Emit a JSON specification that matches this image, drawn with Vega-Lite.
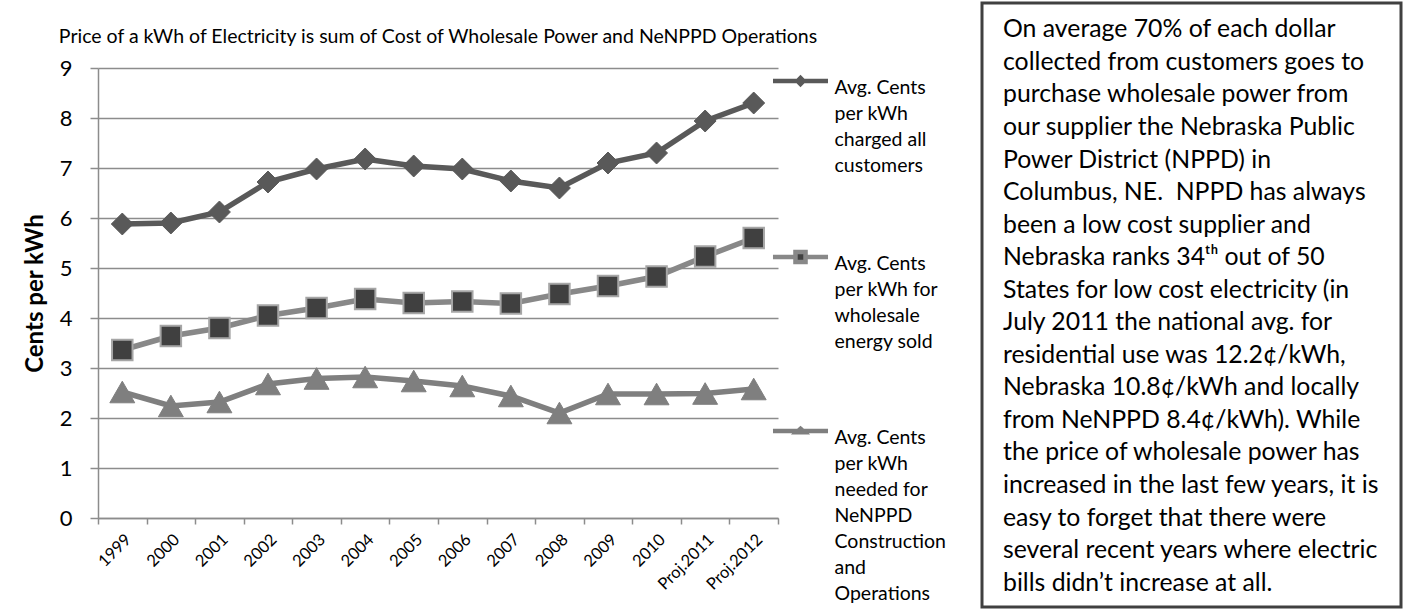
{
  "$schema": "https://vega.github.io/schema/vega-lite/v6.json",
  "padding": {"left": 23, "top": 1, "right": 0, "bottom": 0},
  "background": "white",
  "spacing": 33,
  "resolve": {"scale": {"stroke": "independent"}, "legend": {"stroke": "independent"}},
  "config": {
    "font": "Lato",
    "view": {"stroke": null},
    "style": {"guide-label": {"lineHeight": 26}}
  },
  "datasets": {
    "prices": [
      {"year": "1999", "series": "Avg. Cents per kWh charged all customers", "value": 5.88},
      {"year": "2000", "series": "Avg. Cents per kWh charged all customers", "value": 5.9},
      {"year": "2001", "series": "Avg. Cents per kWh charged all customers", "value": 6.12},
      {"year": "2002", "series": "Avg. Cents per kWh charged all customers", "value": 6.72},
      {"year": "2003", "series": "Avg. Cents per kWh charged all customers", "value": 6.98},
      {"year": "2004", "series": "Avg. Cents per kWh charged all customers", "value": 7.18},
      {"year": "2005", "series": "Avg. Cents per kWh charged all customers", "value": 7.04},
      {"year": "2006", "series": "Avg. Cents per kWh charged all customers", "value": 6.98},
      {"year": "2007", "series": "Avg. Cents per kWh charged all customers", "value": 6.74},
      {"year": "2008", "series": "Avg. Cents per kWh charged all customers", "value": 6.6},
      {"year": "2009", "series": "Avg. Cents per kWh charged all customers", "value": 7.1},
      {"year": "2010", "series": "Avg. Cents per kWh charged all customers", "value": 7.3},
      {"year": "Proj.2011", "series": "Avg. Cents per kWh charged all customers", "value": 7.94},
      {"year": "Proj.2012", "series": "Avg. Cents per kWh charged all customers", "value": 8.3},
      {"year": "1999", "series": "Avg. Cents per kWh for wholesale energy sold", "value": 3.36},
      {"year": "2000", "series": "Avg. Cents per kWh for wholesale energy sold", "value": 3.64},
      {"year": "2001", "series": "Avg. Cents per kWh for wholesale energy sold", "value": 3.8},
      {"year": "2002", "series": "Avg. Cents per kWh for wholesale energy sold", "value": 4.05},
      {"year": "2003", "series": "Avg. Cents per kWh for wholesale energy sold", "value": 4.2},
      {"year": "2004", "series": "Avg. Cents per kWh for wholesale energy sold", "value": 4.38},
      {"year": "2005", "series": "Avg. Cents per kWh for wholesale energy sold", "value": 4.3},
      {"year": "2006", "series": "Avg. Cents per kWh for wholesale energy sold", "value": 4.33},
      {"year": "2007", "series": "Avg. Cents per kWh for wholesale energy sold", "value": 4.29},
      {"year": "2008", "series": "Avg. Cents per kWh for wholesale energy sold", "value": 4.48},
      {"year": "2009", "series": "Avg. Cents per kWh for wholesale energy sold", "value": 4.64},
      {"year": "2010", "series": "Avg. Cents per kWh for wholesale energy sold", "value": 4.83},
      {"year": "Proj.2011", "series": "Avg. Cents per kWh for wholesale energy sold", "value": 5.23},
      {"year": "Proj.2012", "series": "Avg. Cents per kWh for wholesale energy sold", "value": 5.6},
      {"year": "1999", "series": "Avg. Cents per kWh needed for NeNPPD Construction and Operations", "value": 2.52},
      {"year": "2000", "series": "Avg. Cents per kWh needed for NeNPPD Construction and Operations", "value": 2.24},
      {"year": "2001", "series": "Avg. Cents per kWh needed for NeNPPD Construction and Operations", "value": 2.32},
      {"year": "2002", "series": "Avg. Cents per kWh needed for NeNPPD Construction and Operations", "value": 2.68},
      {"year": "2003", "series": "Avg. Cents per kWh needed for NeNPPD Construction and Operations", "value": 2.79},
      {"year": "2004", "series": "Avg. Cents per kWh needed for NeNPPD Construction and Operations", "value": 2.82},
      {"year": "2005", "series": "Avg. Cents per kWh needed for NeNPPD Construction and Operations", "value": 2.74},
      {"year": "2006", "series": "Avg. Cents per kWh needed for NeNPPD Construction and Operations", "value": 2.64},
      {"year": "2007", "series": "Avg. Cents per kWh needed for NeNPPD Construction and Operations", "value": 2.44},
      {"year": "2008", "series": "Avg. Cents per kWh needed for NeNPPD Construction and Operations", "value": 2.1},
      {"year": "2009", "series": "Avg. Cents per kWh needed for NeNPPD Construction and Operations", "value": 2.48},
      {"year": "2010", "series": "Avg. Cents per kWh needed for NeNPPD Construction and Operations", "value": 2.48},
      {"year": "Proj.2011", "series": "Avg. Cents per kWh needed for NeNPPD Construction and Operations", "value": 2.49},
      {"year": "Proj.2012", "series": "Avg. Cents per kWh needed for NeNPPD Construction and Operations", "value": 2.58}
    ],
    "note": [
      {"line": 1, "text": "On average 70% of each dollar"},
      {"line": 2, "text": "collected from customers goes to"},
      {"line": 3, "text": "purchase wholesale power from"},
      {"line": 4, "text": "our supplier the Nebraska Public"},
      {"line": 5, "text": "Power District (NPPD) in"},
      {"line": 6, "text": "Columbus, NE.\u00a0 NPPD has always"},
      {"line": 7, "text": "been a low cost supplier and"},
      {"line": 8, "text": "Nebraska ranks 34ᵗʰ out of 50"},
      {"line": 9, "text": "States for low cost electricity (in"},
      {"line": 10, "text": "July 2011 the national avg. for"},
      {"line": 11, "text": "residential use was 12.2¢/kWh,"},
      {"line": 12, "text": "Nebraska 10.8¢/kWh and locally"},
      {"line": 13, "text": "from NeNPPD 8.4¢/kWh). While"},
      {"line": 14, "text": "the price of wholesale power has"},
      {"line": 15, "text": "increased in the last few years, it is"},
      {"line": 16, "text": "easy to forget that there were"},
      {"line": 17, "text": "several recent years where electric"},
      {"line": 18, "text": "bills didn’t increase at all."}
    ]
  },
  "hconcat": [
    {
      "width": 680,
      "height": 515,
      "title": {
        "text": "Price of a kWh of Electricity is sum of Cost of Wholesale Power and NeNPPD Operations",
        "fontSize": 19.5,
        "fontWeight": "normal",
        "color": "#000000",
        "anchor": "middle",
        "offset": -44
      },
      "data": {"name": "prices"},
      "encoding": {
        "x": {
          "field": "year",
          "type": "ordinal",
          "sort": null,
          "scale": {"type": "band", "paddingInner": 0, "paddingOuter": 0},
          "axis": {
            "title": null,
            "labelAngle": -45,
            "labelFontSize": 16.5,
            "labelColor": "#000000",
            "labelPadding": 7,
            "tickBand": "extent",
            "tickSize": 6,
            "tickColor": "#8c8c8c",
            "tickWidth": 1.5,
            "domainColor": "#8c8c8c",
            "domainWidth": 1.5,
            "grid": false
          }
        },
        "y": {
          "field": "value",
          "type": "quantitative",
          "scale": {"domain": [0, 9], "nice": false, "zero": true, "range": [515, 65]},
          "axis": {
            "title": "Cents per kWh",
            "titleFontSize": 24,
            "titleFontWeight": "bold",
            "titleColor": "#000000",
            "titlePadding": 12,
            "values": [0, 1, 2, 3, 4, 5, 6, 7, 8, 9],
            "labelFontSize": 22,
            "labelColor": "#000000",
            "labelPadding": 18,
            "tickSize": 8,
            "tickColor": "#8c8c8c",
            "tickWidth": 1.5,
            "domainColor": "#8c8c8c",
            "domainWidth": 1.5,
            "grid": true,
            "gridColor": "#8c8c8c",
            "gridWidth": 1.5
          }
        }
      },
      "layer": [
        {
          "mark": {"type": "line", "strokeWidth": 5.5},
          "encoding": {
            "stroke": {
              "field": "series",
              "type": "nominal",
              "scale": {
                "domain": [
                  "Avg. Cents per kWh charged all customers",
                  "Avg. Cents per kWh for wholesale energy sold",
                  "Avg. Cents per kWh needed for NeNPPD Construction and Operations"
                ],
                "range": ["#595959", "#888888", "#7f7f7f"]
              },
              "legend": {
                "title": null,
                "orient": "none",
                "legendX": 692.5,
                "legendY": 66,
                "padding": 0,
                "symbolSize": 225,
                "symbolStrokeWidth": 4.5,
                "labelFontSize": 19.5,
                "labelColor": "#000000",
                "labelLimit": 400,
                "labelOffset": 24,
                "labelBaseline": "top",
                "rowPadding": 67,
                "labelExpr": "indexof(datum.label,'charged') >= 0 ? ['Avg. Cents','per kWh','charged all','customers'] : indexof(datum.label,'wholesale') >= 0 ? ['Avg. Cents','per kWh for','wholesale','energy sold'] : ['Avg. Cents','per kWh','needed for','NeNPPD','Construction','and','Operations']",
                "encode": {
                  "symbols": {
                    "update": {
                      "shape": {"signal": "indexof(datum.value,'charged') >= 0 ? 'M-3.67,0.27H3.67M-0.4,0.27L0,-0.13L0.4,0.27L0,0.67Z' : indexof(datum.value,'wholesale') >= 0 ? 'M-3.67,0.27H-0.67M0.67,0.27H3.67M-0.67,-0.4H0.67V0.94H-0.67Z' : 'M-3.67,0.27H3.67M0,-0.03L0.5,0.42H-0.5Z'"},
                      "fill": {"signal": "indexof(datum.value,'charged') >= 0 ? '#595959' : indexof(datum.value,'wholesale') >= 0 ? '#404040' : '#7f7f7f'"},
                      "opacity": {"value": 1}
                    }
                  }
                }
              }
            }
          }
        },
        {
          "transform": [{"filter": "indexof(datum.series,'charged') >= 0"}],
          "mark": {"type": "point", "shape": "diamond", "filled": true, "size": 480, "fill": "#595959", "stroke": "#595959", "strokeWidth": 1, "opacity": 1}
        },
        {
          "transform": [{"filter": "indexof(datum.series,'wholesale') >= 0"}],
          "mark": {"type": "point", "shape": "square", "filled": true, "size": 420, "fill": "#404040", "stroke": "#a6a6a6", "strokeWidth": 2, "opacity": 1}
        },
        {
          "transform": [{"filter": "indexof(datum.series,'NeNPPD') >= 0"}],
          "mark": {"type": "point", "shape": "triangle-up", "filled": true, "size": 620, "fill": "#7f7f7f", "stroke": "#7f7f7f", "strokeWidth": 1, "opacity": 1}
        }
      ]
    },
    {
      "width": 419,
      "height": 604,
      "view": {"stroke": "#404040", "strokeWidth": 3},
      "data": {"name": "note"},
      "mark": {"type": "text", "align": "left", "baseline": "middle", "fontSize": 24.8, "font": "Lato", "color": "#000000", "dx": 21, "dy": 2},
      "encoding": {
        "y": {"field": "line", "type": "ordinal", "axis": null, "scale": {"type": "point", "padding": 0.78}},
        "x": {"datum": 0, "type": "quantitative", "axis": null, "scale": {"domain": [0, 1]}},
        "text": {"field": "text"}
      }
    }
  ]
}
